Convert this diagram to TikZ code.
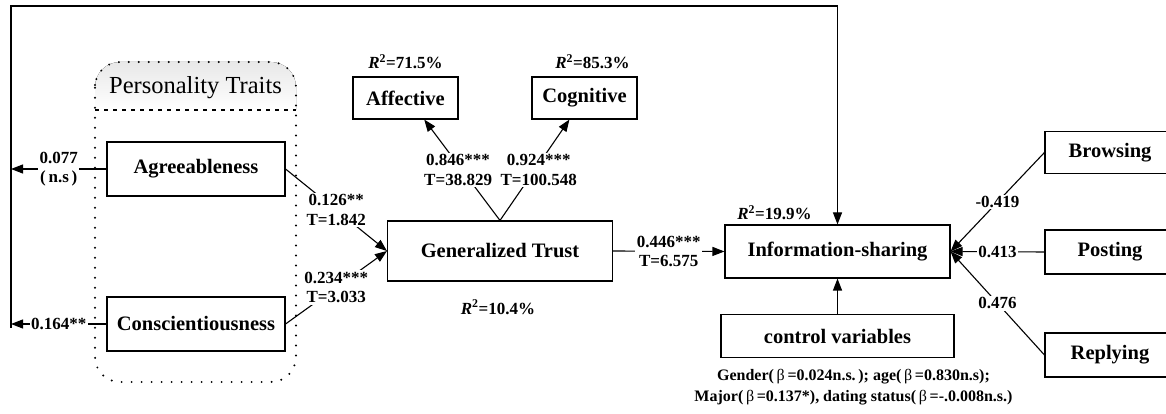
\documentclass[tikz,border=0pt]{standalone}
\usepackage{fontspec}
\setmainfont{Liberation Serif}
\usetikzlibrary{arrows.meta,positioning}

\tikzset{
  varbox/.style={rectangle, draw, line width=1.1pt, inner sep=0pt, font=\fontsize{20.5}{23}\selectfont\bfseries},
  coef/.style={fill=white, inner sep=1.5pt, align=center, font=\fontsize{17}{19.5}\selectfont\bfseries},
  rsq/.style={font=\fontsize{17}{19}\selectfont\bfseries},
  link/.style={line width=1.1pt, -{Triangle[length=12pt,width=9pt]}},
  grpline/.style={line width=2.2pt, dash pattern=on 0pt off 10pt, line cap=round},
}
\newcommand{\Rtwo}[1]{\textit{R}\textsuperscript{2}=#1}

\begin{document}
\begin{tikzpicture}[x=1pt, y=1pt]
\useasboundingbox (0,0) rectangle (1166,414);
\clip (0,0) rectangle (1166,414);

% personality traits group
\fill[top color=gray!18, bottom color=white] (95,304) {[rounded corners=25pt] -- (95,352) -- (296,352)} -- (296,304) -- cycle;
\draw[grpline, rounded corners=25pt] (95,304) -- (95,352) -- (296,352) -- (296,32) -- (95,32) -- cycle;
\draw[line width=1.2pt, dash pattern=on 4pt off 5pt] (95,304) -- (296,304);
\node[font=\fontsize{24.5}{27}\selectfont] (traits) at (195.5,326) {Personality Traits};

% variables
\node[varbox, minimum width=178pt, minimum height=54pt] (agr) at (196,245) {Agreeableness};
\node[varbox, minimum width=178pt, minimum height=54pt] (con) at (196,90) {Conscientiousness};
\node[varbox, minimum width=225pt, minimum height=60pt] (gt) at (500,163) {Generalized Trust};
\node[varbox, minimum width=105pt, minimum height=42pt] (aff) at (405.5,316) {Affective};
\node[varbox, minimum width=105pt, minimum height=42pt] (cog) at (584.5,316) {Cognitive};
\node[varbox, minimum width=225pt, minimum height=53pt] (info) at (837.5,162.5) {Information-sharing};
\node[varbox, minimum width=233pt, minimum height=43pt] (ctrl) at (837.5,78) {control variables};
\node[varbox, minimum width=130pt, minimum height=42pt] (brw) at (1110,261.5) {Browsing};
\node[varbox, minimum width=130pt, minimum height=44pt] (pst) at (1110,162) {Posting};
\node[varbox, minimum width=130pt, minimum height=44pt] (rep) at (1110,59) {Replying};

% R squared
\node[rsq, above=4pt of aff] (raff) {\Rtwo{71.5\%}};
\node[rsq, above=4pt of cog, xshift=8pt] (rcog) {\Rtwo{85.3\%}};
\node[rsq, below=15pt of gt, xshift=-2pt] (rgt) {\Rtwo{10.4\%}};
\node[rsq, above=1pt of info, xshift=-63pt] (rinfo) {\Rtwo{19.9\%}};
\node[font=\fontsize{16}{21}\selectfont\bfseries, align=center, below=8pt of ctrl, xshift=16pt] (ctrltxt)
  {Gender(\,{\mdseries β}\,=0.024n.s.\,); age(\,{\mdseries β}\,=0.830n.s);\\
   Major(\,{\mdseries β}\,=0.137*), dating status(\,{\mdseries β}\,=-.0.008n.s.)};

% outer loop
\coordinate (lb) at (11,86);
\coordinate (lt) at (11,408);
\draw[link] (lb) -- (lt) -| (info.north);
\draw[link] (agr.west) -- node[coef] {0.077\\(\,n.s\,)} (agr.west -| lb);
\draw[link] (con.west) -- node[coef] {0.164**} (con.west -| lb);

% paths
\draw[link] (agr.east) -- node[coef] {0.126**\\T=1.842} (gt.west);
\draw[link] (con.east) -- node[coef] {0.234***\\T=3.033} (gt.west);
\draw[link] (gt.north) -- node[coef, inner xsep=0pt, xshift=-4pt] {0.846***\\T=38.829} (aff.-49);
\draw[link] (gt.north) -- node[coef, inner xsep=0pt, xshift=4pt] {0.924***\\T=100.548} (cog.-125);
\draw[link] (gt.east) -- node[coef] {0.446***\\T=6.575} (info.west);
\draw[link] (ctrl.north) -- (info.south);
\draw[link] (brw.west) -- node[coef] {-0.419} (info.east);
\draw[link] (pst.west) -- node[coef, inner sep=1pt] {0.413} (info.east);
\draw[link] (rep.west) -- node[coef] {0.476} (info.east);
\end{tikzpicture}
\end{document}
